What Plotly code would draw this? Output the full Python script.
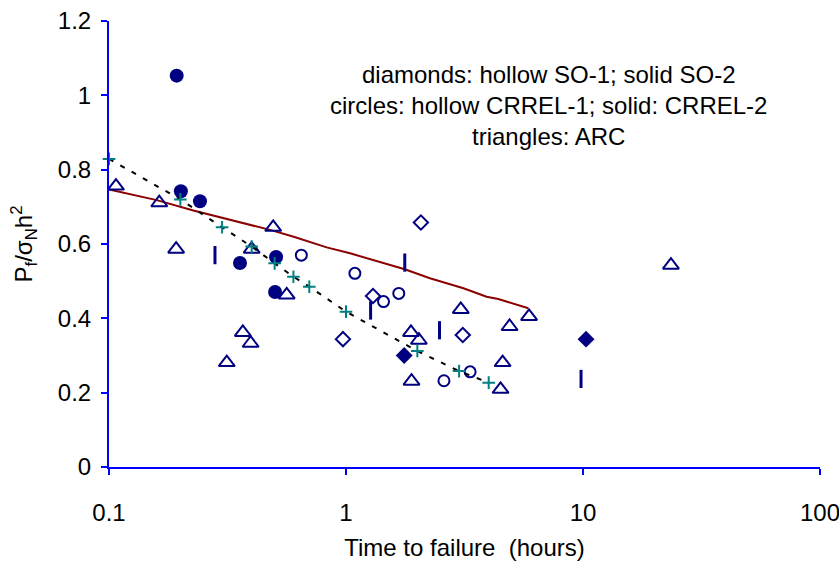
import plotly.graph_objects as go

# CRREL-2 (solid circles)
crrel2_t = [0.193, 0.201, 0.242, 0.357, 0.507, 0.502]
crrel2_p = [1.053, 0.742, 0.715, 0.549, 0.565, 0.471]

# CRREL-1 (hollow circles)
crrel1_t = [0.648, 1.09, 1.44, 1.67, 2.59, 3.34]
crrel1_p = [0.570, 0.521, 0.445, 0.467, 0.232, 0.256]

# SO-1 (hollow diamonds)
so1_t = [0.971, 1.30, 2.07, 3.11]
so1_p = [0.344, 0.460, 0.658, 0.355]

# SO-2 (solid diamonds)
so2_t = [1.76, 10.3]
so2_p = [0.300, 0.344]

# ARC (triangles)
arc_t = [0.107, 0.163, 0.192, 0.314, 0.367, 0.396, 0.400, 0.493, 0.562,
         1.88, 2.03, 1.89, 3.05, 4.49, 4.58, 4.90, 5.92, 23.5]
arc_p = [0.756, 0.711, 0.586, 0.281, 0.362, 0.333, 0.586, 0.645, 0.463,
         0.362, 0.341, 0.231, 0.424, 0.209, 0.281, 0.378, 0.405, 0.543]

# vertical-bar series
bar_t = [0.280, 1.27, 1.77, 2.48, 9.81]
bar_p = [0.570, 0.421, 0.550, 0.368, 0.237]

# fitted points (teal plus, dotted line)
fit_t = [0.1, 0.2, 0.3, 0.4, 0.5, 0.6, 0.7, 1.0, 2.0, 3.0, 4.0]
fit_p = [0.829, 0.720, 0.645, 0.593, 0.548, 0.512, 0.485, 0.418, 0.312, 0.258, 0.227]

# model curve (dark red)
model_t = [0.1, 0.159, 0.227, 0.394, 0.478, 0.597, 0.829, 1.04, 1.39, 1.77,
           2.26, 3.13, 3.92, 4.39, 5.88]
model_p = [0.747, 0.718, 0.690, 0.651, 0.638, 0.620, 0.591, 0.575, 0.552, 0.532,
           0.508, 0.481, 0.458, 0.452, 0.427]

x_ticks = [0.1, 1, 10, 100]
x_tick_text = ["0.1", "1", "10", "100"]

NAVY = "#000080"
TEAL = "#008080"
FONT = "Liberation Sans, Arial, sans-serif"

W, H = 839, 561
L, R, T, B = 109, 19, 21, 94
pw, ph = W - L - R, H - T - B

fig = go.Figure()

fig.add_trace(go.Scatter(x=model_t, y=model_p, mode="lines",
                         line=dict(color="#8B0000", width=2), hoverinfo="skip"))

fig.add_trace(go.Scatter(x=arc_t, y=arc_p, mode="markers",
                         marker=dict(symbol="triangle-up-open", size=14, color=NAVY,
                                     line=dict(color=NAVY, width=2))))
fig.add_trace(go.Scatter(x=crrel1_t, y=crrel1_p, mode="markers",
                         marker=dict(symbol="circle-open", size=11, color=NAVY,
                                     line=dict(color=NAVY, width=2))))
fig.add_trace(go.Scatter(x=crrel2_t, y=crrel2_p, mode="markers",
                         marker=dict(symbol="circle", size=14, color=NAVY)))
fig.add_trace(go.Scatter(x=so1_t, y=so1_p, mode="markers",
                         marker=dict(symbol="diamond-open", size=11, color=NAVY,
                                     line=dict(color=NAVY, width=2))))
fig.add_trace(go.Scatter(x=so2_t, y=so2_p, mode="markers",
                         marker=dict(symbol="diamond", size=13, color=NAVY)))
fig.add_trace(go.Scatter(x=bar_t, y=bar_p, mode="markers",
                         marker=dict(symbol="line-ns", size=13, color=NAVY,
                                     line=dict(color=NAVY, width=3))))

fig.add_trace(go.Scatter(x=fit_t, y=fit_p, mode="lines+markers",
                         line=dict(color="black", width=2, dash="5px,8px"),
                         marker=dict(symbol="cross-thin", size=9, color=TEAL,
                                     line=dict(color=TEAL, width=2))))

fig.update_traces(cliponaxis=False)

fig.add_annotation(
    x=(548 - L) / pw, y=1 - (105 - T) / ph, xref="paper", yref="paper",
    xanchor="center", yanchor="middle", showarrow=False,
    text="diamonds: hollow SO-1; solid SO-2<br>circles: hollow CRREL-1; solid: CRREL-2<br>triangles: ARC",
    font=dict(family=FONT, size=24, color="black"), align="center",
)

fig.update_layout(
    width=W, height=H,
    margin=dict(l=L, r=R, t=T, b=B, pad=0, autoexpand=False),
    paper_bgcolor="white", plot_bgcolor="white",
    showlegend=False,
    font=dict(family=FONT, size=22, color="black"),
    xaxis=dict(
        type="log", range=[-1, 2], tickvals=x_ticks, ticktext=x_tick_text,
        automargin=False,
        showgrid=False, zeroline=False, showline=True, linecolor="#0000FF", linewidth=2,
        ticks="outside", ticklen=6, tickwidth=2, tickcolor="#0000FF",
        tickfont=dict(size=24), ticklabelstandoff=17, ticklabeloverflow="allow",
        title=dict(text="Time to failure\u00a0\u00a0(hours)", font=dict(size=24), standoff=15),
    ),
    yaxis=dict(
        range=[0, 1.2], dtick=0.2, tick0=0,
        automargin=False,
        showgrid=False, zeroline=False, showline=True, linecolor="#0000FF", linewidth=2,
        ticks="outside", ticklen=6, tickwidth=2, tickcolor="#0000FF",
        tickfont=dict(size=24), ticklabelstandoff=5,
        title=dict(text="P<sub>f</sub>/σ<sub>N</sub>h<sup>2</sup>", font=dict(size=24), standoff=18),
    ),
)

fig.write_html("out.html")
